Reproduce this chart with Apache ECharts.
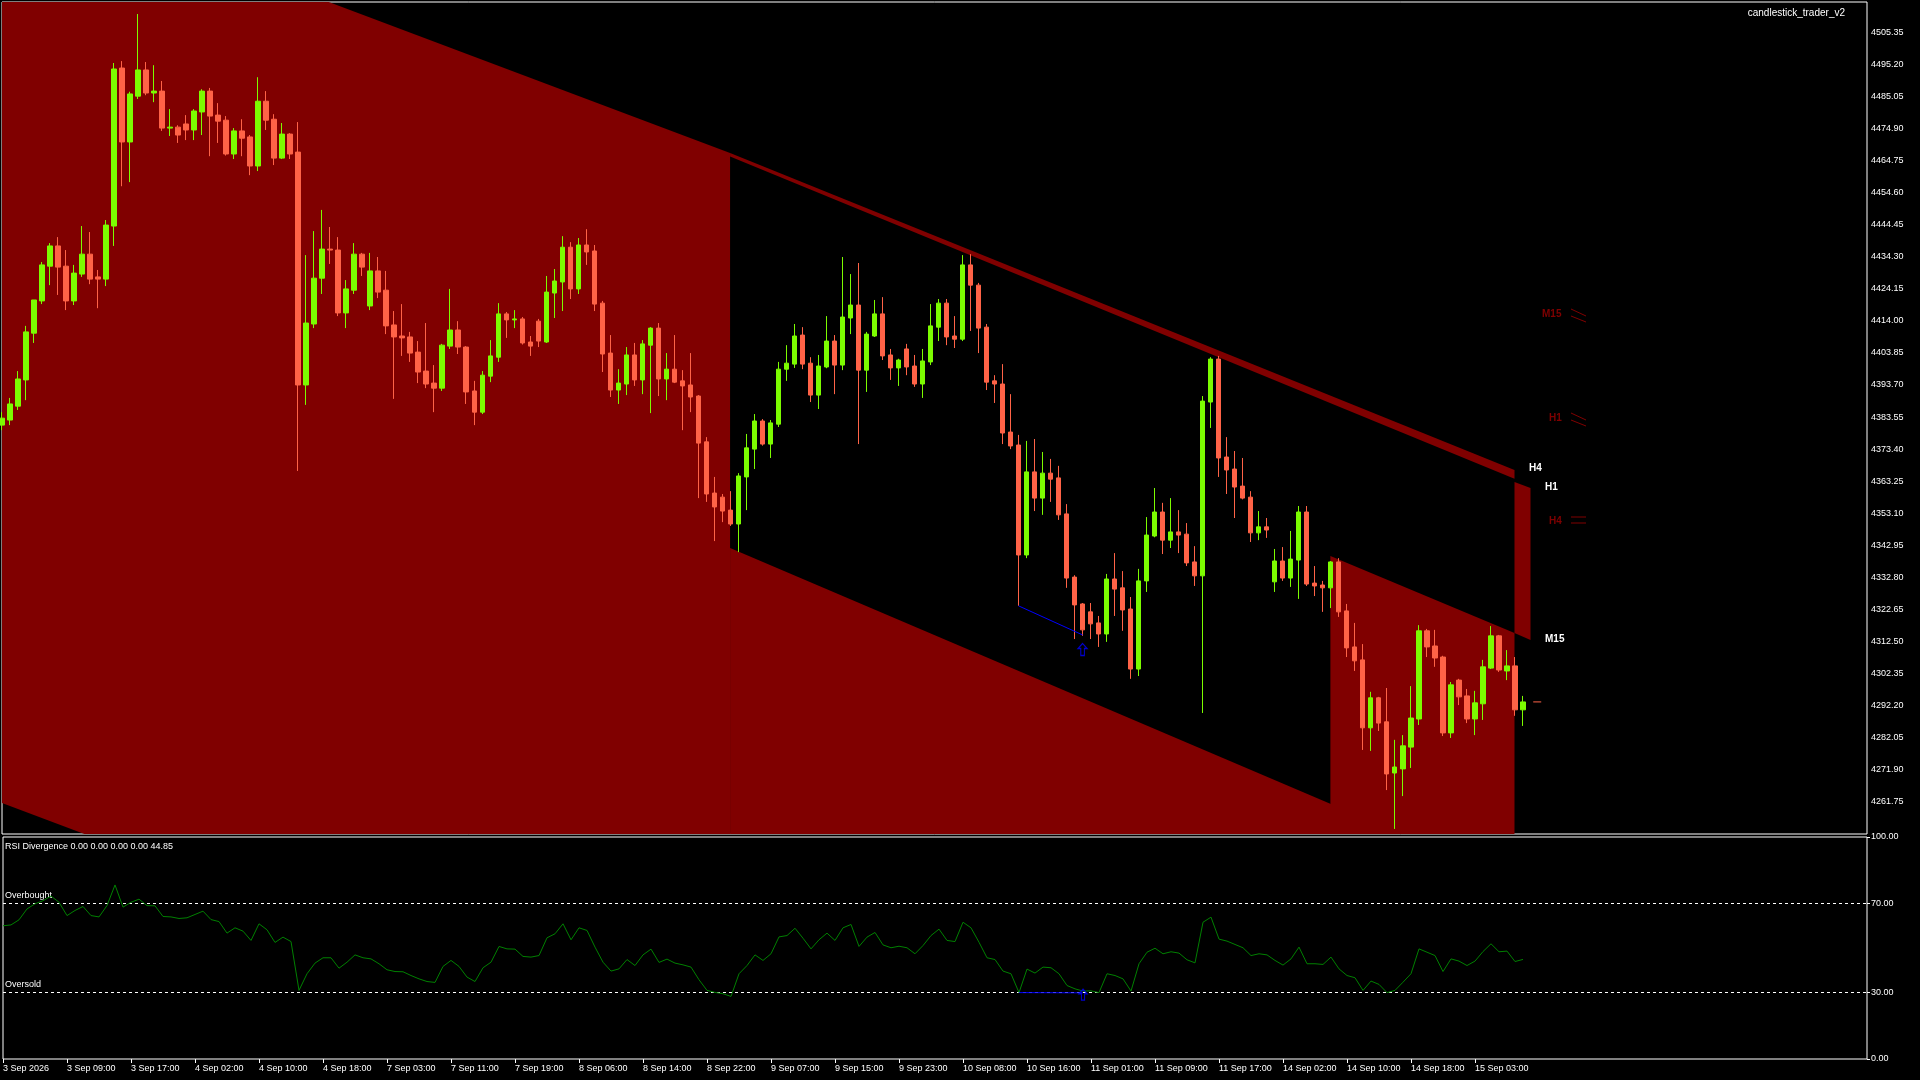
<!DOCTYPE html>
<html>
<head>
<meta charset="utf-8">
<style>
  html, body { margin: 0; padding: 0; background: #000; }
  #chart { width: 1920px; height: 1080px; }
</style>
<script src="https://cdn.jsdelivr.net/npm/echarts@6/dist/echarts.min.js"></script>
</head>
<body>
<div id="chart"></div>
<script>
// XAUUSD H1 candles
const opens = [4381.0,4382.6,4387.0,4395.3,4410.1,4420.3,4431.3,4437.7,4431.3,4420.3,
4428.8,4435.1,4427.9,4427.2,4444.0,4494.0,4470.6,4485.1,4493.4,4486.1,
4486.7,4475.0,4475.3,4476.3,4474.4,4480.1,4486.7,4479.1,4477.5,4466.8,
4474.1,4472.2,4463.0,4483.5,4477.8,4465.5,4473.1,4467.4,4393.7,4413.0,
4427.5,4436.7,4436.4,4416.5,4423.7,4435.1,4418.7,4429.8,4423.7,4412.7,
4409.2,4408.9,4404.1,4398.1,4394.3,4392.7,4406.0,4411.1,4405.7,4391.8,
4385.1,4396.5,4402.5,4416.2,4414.3,4414.6,4407.3,4413.9,4407.3,4422.8,
4426.3,4437.3,4424.1,4438.0,4436.1,4419.6,4403.8,4392.1,4394.0,4403.2,
4395.3,4406.3,4411.7,4395.6,4398.7,4395.0,4393.7,4390.2,4375.7,4359.5,
4358.2,4354.1,4349.7,4364.6,4373.4,4382.3,4375.0,4381.3,4398.7,4400.3,
4409.5,4400.6,4390.5,4399.4,4407.6,4400.0,4414.9,4419.0,4398.4,4409.2,
4416.2,4403.2,4399.1,4405.1,4399.7,4394.0,4401.0,4412.0,4419.6,4409.2,
4408.2,4431.7,4425.3,4412.0,4395.0,4394.0,4378.8,4374.7,4339.9,4366.2,
4357.9,4365.8,4364.3,4352.9,4332.9,4324.4,4321.9,4318.4,4314.9,4332.3,
4329.5,4322.8,4303.8,4331.7,4345.9,4353.5,4344.6,4347.2,4346.5,4337.7,
4333.3,4388.3,4401.9,4370.9,4367.1,4361.7,4358.2,4346.9,4348.8,4331.4,
4338.0,4332.6,4338.3,4353.5,4331.0,4330.4,4329.5,4337.7,4322.2,4310.8,
4306.7,4285.2,4294.7,4287.1,4270.9,4272.2,4279.1,4288.0,4315.9,4311.1,
4307.6,4283.6,4300.3,4295.3,4288.0,4292.8,4304.1,4314.3,4303.2,4304.8,
4290.9];
const closes = [4383.2,4387.7,4395.6,4410.5,4420.6,4431.7,4437.7,4431.0,4420.3,4429.1,
4435.1,4427.2,4427.2,4444.3,4493.7,4470.6,4485.8,4493.4,4486.1,4486.7,
4475.0,4475.3,4472.8,4474.4,4480.4,4486.7,4478.8,4477.2,4466.8,4474.1,
4471.8,4463.0,4483.5,4477.5,4465.5,4473.1,4466.8,4393.7,4413.3,4427.5,
4436.7,4436.4,4416.5,4424.1,4435.1,4431.0,4429.8,4423.1,4412.4,4408.9,
4408.6,4403.8,4397.8,4394.0,4392.7,4406.3,4411.1,4405.7,4391.5,4385.1,
4396.8,4402.9,4416.2,4414.3,4414.6,4407.0,4406.0,4407.6,4423.1,4426.6,
4437.3,4424.1,4438.0,4435.8,4419.3,4403.5,4392.1,4394.3,4403.2,4395.3,
4406.7,4411.7,4395.6,4398.7,4394.6,4393.4,4389.9,4375.3,4359.2,4355.1,
4353.8,4349.7,4364.9,4373.8,4382.3,4375.0,4381.7,4398.7,4400.6,4409.2,
4400.3,4390.5,4399.7,4407.6,4400.0,4415.2,4419.0,4398.4,4409.8,4416.2,
4402.9,4399.1,4401.6,4399.4,4394.0,4401.3,4412.4,4419.6,4408.9,4408.2,
4431.7,4425.3,4411.7,4394.6,4394.0,4378.5,4374.4,4339.9,4366.2,4357.9,
4365.8,4363.9,4352.6,4332.6,4324.1,4316.2,4318.1,4314.9,4332.3,4329.1,
4322.5,4303.8,4331.7,4346.2,4353.5,4344.6,4347.2,4346.2,4337.4,4333.3,
4388.6,4401.9,4370.6,4366.8,4361.4,4357.9,4346.9,4348.8,4347.8,4338.0,
4332.6,4338.6,4353.5,4330.7,4330.1,4329.5,4337.7,4321.9,4310.5,4306.4,
4285.2,4294.7,4286.7,4270.6,4272.8,4279.5,4288.3,4315.9,4310.8,4307.3,
4283.6,4298.8,4295.0,4288.0,4293.1,4304.5,4314.3,4303.5,4304.8,4290.9,
4293.4];
const lows = [4379.4,4381.0,4385.8,4388.9,4407.0,4419.3,4425.3,4422.2,4417.4,4419.0,
4427.9,4425.6,4418.0,4425.0,4437.7,4456.6,4457.9,4484.2,4485.4,4483.2,
4474.1,4472.5,4470.3,4471.2,4471.2,4472.8,4466.1,4470.3,4466.3,4465.2,
4466.1,4460.1,4461.4,4474.4,4463.3,4465.2,4465.2,4366.5,4387.4,4411.7,
4422.5,4432.0,4415.5,4411.7,4422.5,4428.2,4417.4,4421.2,4409.8,4389.3,
4402.9,4401.0,4394.3,4392.7,4385.1,4391.8,4405.1,4403.5,4387.7,4381.0,
4384.5,4394.6,4401.0,4408.6,4411.7,4406.5,4402.9,4405.7,4407.0,4414.9,
4417.1,4420.9,4422.5,4431.7,4417.1,4397.8,4389.9,4387.7,4390.5,4393.4,
4390.8,4384.8,4390.2,4388.9,4394.3,4379.4,4385.1,4357.9,4356.7,4344.3,
4350.3,4349.1,4340.8,4354.1,4367.1,4374.5,4370.6,4380.4,4395.0,4399.1,
4398.7,4388.3,4386.1,4399.0,4390.8,4398.4,4409.8,4375.0,4391.5,4408.9,
4401.6,4395.3,4393.4,4396.8,4393.1,4389.6,4400.0,4407.6,4406.3,4405.4,
4407.6,4410.8,4403.8,4392.1,4388.0,4375.0,4373.4,4323.8,4338.9,4353.8,
4352.6,4356.7,4351.0,4329.5,4313.3,4314.3,4313.3,4310.8,4312.4,4320.6,
4315.9,4300.7,4301.6,4328.2,4345.5,4340.2,4342.1,4340.5,4336.4,4330.1,
4289.9,4380.1,4364.6,4359.2,4351.6,4357.5,4344.0,4344.6,4345.3,4328.2,
4331.7,4329.8,4326.0,4330.1,4326.9,4321.9,4323.1,4320.3,4307.6,4303.2,
4278.2,4277.9,4284.2,4265.5,4253.2,4263.6,4272.5,4286.1,4307.6,4304.5,
4282.6,4282.0,4292.4,4286.7,4282.9,4287.7,4303.8,4302.9,4300.3,4289.0,
4285.8];
const highs = [4385.1,4389.6,4398.1,4412.4,4420.6,4432.6,4438.6,4440.5,4436.4,4431.7,
4444.0,4442.1,4430.1,4445.9,4495.6,4496.2,4486.5,4511.1,4495.9,4494.9,
4489.9,4481.0,4475.9,4479.1,4481.0,4487.3,4487.7,4482.9,4478.8,4475.0,
4477.8,4472.8,4491.1,4486.7,4479.4,4476.6,4473.4,4476.9,4434.8,4442.4,
4449.1,4443.7,4440.5,4426.9,4438.6,4435.5,4435.5,4434.2,4429.8,4417.1,
4419.3,4410.5,4407.6,4413.3,4400.0,4406.7,4424.1,4413.9,4406.0,4395.0,
4398.1,4407.9,4419.6,4416.8,4417.4,4415.2,4409.2,4414.6,4428.2,4430.4,
4440.8,4438.9,4440.2,4443.0,4438.0,4420.3,4409.5,4398.7,4405.7,4407.0,
4407.9,4412.0,4413.3,4403.8,4409.5,4398.4,4403.8,4390.5,4377.2,4364.6,
4359.2,4360.1,4365.8,4378.2,4384.5,4382.9,4382.6,4401.0,4406.3,4413.0,
4412.0,4402.5,4403.2,4415.5,4409.5,4434.2,4428.8,4432.3,4410.5,4420.6,
4421.5,4405.1,4402.0,4406.7,4403.2,4405.1,4419.3,4420.9,4420.9,4415.5,
4434.8,4435.1,4426.0,4413.0,4396.8,4400.3,4390.8,4377.9,4376.0,4376.6,
4372.5,4370.3,4368.1,4356.0,4333.5,4324.7,4324.7,4320.6,4333.9,4340.5,
4334.8,4326.6,4335.5,4351.9,4361.1,4356.4,4357.9,4354.1,4350.0,4342.7,
4390.2,4402.5,4402.9,4377.2,4372.8,4370.6,4360.1,4353.8,4351.6,4341.8,
4342.4,4347.5,4355.4,4355.4,4336.4,4331.7,4338.0,4338.9,4324.4,4318.4,
4311.7,4296.6,4295.0,4297.8,4281.4,4282.9,4298.4,4317.7,4316.5,4316.2,
4308.0,4299.7,4300.7,4297.5,4296.9,4306.7,4317.4,4314.6,4309.8,4307.6,
4295.3];

// RSI(14) values per bar
const rsiValues = [60.0,60.4,62.7,67.6,69.9,71.3,73.4,70.6,64.6,66.9,
68.7,64.6,64.0,69.1,78.4,68.4,70.6,72.0,69.1,69.0,
64.2,64.0,63.3,63.6,65.1,66.6,62.8,61.9,56.7,59.1,
57.6,53.4,60.9,58.2,52.5,54.9,52.9,30.9,38.4,43.2,
45.6,45.6,40.9,43.6,46.9,45.6,45.1,42.9,40.2,39.4,
39.3,37.6,36.1,34.9,34.5,41.7,44.4,41.7,36.9,34.9,
41.1,43.6,50.7,49.6,49.5,46.2,45.9,46.6,54.6,56.4,
60.9,53.7,59.1,57.9,50.4,43.6,39.6,40.6,44.8,42.1,
46.9,49.5,43.5,45.0,43.2,42.4,41.4,35.7,30.9,30.0,
29.4,28.2,38.4,42.1,46.9,44.4,47.4,55.0,55.6,58.9,
54.4,49.6,53.7,56.7,53.4,59.1,60.6,50.7,54.9,57.0,
51.4,50.1,50.8,50.1,47.4,51.1,55.6,58.5,53.4,52.9,
61.6,59.1,52.6,45.6,44.8,39.6,38.4,29.9,40.5,38.7,
41.4,41.1,38.4,33.1,31.6,30.6,30.7,29.9,38.4,37.6,
36.1,30.6,42.9,48.1,49.9,47.4,48.3,47.7,44.7,43.3,
61.6,63.9,54.0,53.1,51.6,50.1,46.6,47.4,46.9,44.4,
42.3,45.1,50.4,42.9,42.9,42.6,45.9,40.6,37.6,36.6,
30.9,35.1,33.6,29.9,30.9,34.6,38.4,49.6,48.1,46.6,
39.4,45.1,44.1,42.1,44.1,48.4,51.9,48.3,48.6,43.9,
44.85];

// time labels, one every 8 bars
const tickLabels = ['3 Sep 2026','3 Sep 09:00','3 Sep 17:00','4 Sep 02:00','4 Sep 10:00','4 Sep 18:00',
'7 Sep 03:00','7 Sep 11:00','7 Sep 19:00','8 Sep 06:00','8 Sep 14:00','8 Sep 22:00',
'9 Sep 07:00','9 Sep 15:00','9 Sep 23:00','10 Sep 08:00','10 Sep 16:00','11 Sep 01:00',
'11 Sep 09:00','11 Sep 17:00','14 Sep 02:00','14 Sep 10:00','14 Sep 18:00','15 Sep 03:00'];

// channel zones [bar, price]
const zoneLeft  = [[-0.3,4554.1],[90.96,4467.1],[90.96,4174.7],[-0.3,4261.7]];
const bandTop   = [[90.96,4467.1],[188.96,4366.8],[188.96,4364.0],[90.96,4466.0]];
const zoneLow   = [[90.96,4342.1],[180.0,4246.0],[90.96,4246.0]];
const zoneRight = [[165.96,4339.6],[188.96,4315.2],[188.96,4240.0],[165.96,4240.0]];
const zoneProj  = [[188.96,4363.0],[190.96,4361.1],[190.96,4313.0],[188.96,4315.2]];

// divergence
const divPrice = [[127,4323.8],[135,4314.6]];
const divRsi = [[127,29.9],[135,29.8]];
const bidPrice = 4293.4;

const N = 234;
const cats = [];
for (let i = 0; i < N; i++) cats.push(i % 8 === 0 && i / 8 < tickLabels.length ? tickLabels[i / 8] : '');
const candles = opens.map((o, i) => [o, closes[i], lows[i], highs[i]]);

const RED = '#800000', UP = '#7CFC00', DOWN = '#FF6347';
const FONT = 'Liberation Sans';

function zone(points) {
  return {
    type: 'custom', xAxisIndex: 1, yAxisIndex: 0, clip: true, silent: true, z: 1,
    data: [0],
    renderItem: function (params, api) {
      return {
        type: 'polygon',
        shape: { points: points.map(p => api.coord(p)) },
        style: { fill: RED, stroke: null }
      };
    }
  };
}

const chart = echarts.init(document.getElementById('chart'));
const arrow = 'path://M5,0 L10,5 L7,5 L7,12 L3,12 L3,5 L0,5 Z';

chart.setOption({
  backgroundColor: '#000',
  animation: false,
  textStyle: { fontFamily: FONT },
  grid: [
    { left: 2, top: 2, width: 1865, height: 832, show: true, borderColor: '#fff', borderWidth: 1 },
    { left: 2, top: 837, width: 1865, height: 222, show: true, borderColor: '#fff', borderWidth: 1 }
  ],
  xAxis: [
    { type: 'category', gridIndex: 0, data: cats, boundaryGap: false, show: false },
    { type: 'value', gridIndex: 0, min: 0, max: N - 1, show: false },
    { type: 'category', gridIndex: 1, data: cats, boundaryGap: false,
      axisLine: { show: false },
      axisTick: { show: true, length: 4, lineStyle: { color: '#fff' },
        interval: (i, v) => v !== '' },
      axisLabel: { color: '#fff', fontSize: 9, fontFamily: FONT, align: 'left', margin: 5,
        interval: (i, v) => v !== '' },
      splitLine: { show: false } }
  ],
  yAxis: [
    { type: 'value', gridIndex: 0, position: 'right', min: 4251.6, max: 4514.9, interval: 10.15,
      axisLine: { show: false },
      axisTick: { show: true, length: 3, lineStyle: { color: '#fff' } },
      axisLabel: { color: '#fff', fontSize: 9, fontFamily: FONT, margin: 4, showMinLabel: false, showMaxLabel: false,
        formatter: v => v.toFixed(2) },
      splitLine: { show: false } },
    { type: 'value', gridIndex: 1, position: 'right', min: 0, max: 100, interval: 10,
      axisLine: { show: false },
      axisTick: { show: true, length: 3, lineStyle: { color: '#fff' }, customValues: [0, 30, 70, 100] },
      axisLabel: { color: '#fff', fontSize: 9, fontFamily: FONT, margin: 4, customValues: [0, 30, 70, 100],
        formatter: v => ([0, 30, 70, 100].indexOf(Math.round(v)) >= 0 ? v.toFixed(2) : '') },
      splitLine: { show: false } }
  ],
  series: [
    zone(zoneLeft), zone(bandTop), zone(zoneLow), zone(zoneRight), zone(zoneProj),
    {
      type: 'candlestick', xAxisIndex: 0, yAxisIndex: 0, z: 5, barWidth: 5,
      data: candles,
      itemStyle: { color: UP, color0: DOWN, borderColor: UP, borderColor0: DOWN, borderWidth: 1 }
    },
    {
      type: 'line', xAxisIndex: 1, yAxisIndex: 0, z: 6, data: divPrice, symbol: 'none',
      lineStyle: { color: '#0000ff', width: 1 }
    },
    {
      type: 'line', xAxisIndex: 1, yAxisIndex: 0, z: 6, data: [[191.3, bidPrice], [192.3, bidPrice]], symbol: 'none',
      lineStyle: { color: DOWN, width: 1 }
    },
    {
      type: 'scatter', xAxisIndex: 1, yAxisIndex: 0, z: 6, data: [[135, 4310.0]],
      symbol: arrow, symbolSize: [9, 12],
      itemStyle: { color: 'rgba(0,0,0,0)', borderColor: '#0000ff', borderWidth: 1.2 }
    },
    {
      type: 'line', xAxisIndex: 2, yAxisIndex: 1, z: 5, data: rsiValues, symbol: 'none',
      lineStyle: { color: '#008000', width: 1 },
      markLine: {
        silent: true, symbol: 'none', label: { show: false },
        lineStyle: { color: '#fff', type: [3, 3], width: 1 },
        data: [{ yAxis: 70 }, { yAxis: 30 }]
      }
    },
    {
      type: 'line', xAxisIndex: 2, yAxisIndex: 1, z: 6, data: divRsi, symbol: 'none',
      lineStyle: { color: '#0000ff', width: 1 }
    },
    {
      type: 'scatter', xAxisIndex: 2, yAxisIndex: 1, z: 6, data: [[135, 29.0]],
      symbol: arrow, symbolSize: [8, 11],
      itemStyle: { color: 'rgba(0,0,0,0)', borderColor: '#0000ff', borderWidth: 1.2 }
    }
  ],
  graphic: [
    { type: 'text', left: 7, top: 4, style: { text: 'XAUUSD, H1:  Gold vs US Dollar\nRSI Value: 44.9\nStatus: Notify\nBars on Chart: 4155',
      fill: '#fff', font: '10px "Liberation Sans"', lineHeight: 11 } },
    { type: 'text', right: 1920 - 1845, top: 8, style: { text: 'candlestick_trader_v2', fill: '#fff', font: '10px "Liberation Sans"', align: 'right' } },
    { type: 'text', left: 5, top: 842, style: { text: 'RSI Divergence 0.00 0.00 0.00 0.00 44.85', fill: '#fff', font: '9px "Liberation Sans"' } },
    { type: 'text', left: 5, top: 891, style: { text: 'Overbought', fill: '#fff', font: '9px "Liberation Sans"' } },
    { type: 'text', left: 5, top: 980, style: { text: 'Oversold', fill: '#fff', font: '9px "Liberation Sans"' } },
    { type: 'text', left: 1529, top: 463, style: { text: 'H4', fill: '#fff', font: 'bold 10px "Liberation Sans"' } },
    { type: 'text', left: 1545, top: 482, style: { text: 'H1', fill: '#fff', font: 'bold 10px "Liberation Sans"' } },
    { type: 'text', left: 1545, top: 634, style: { text: 'M15', fill: '#fff', font: 'bold 10px "Liberation Sans"' } },
    { type: 'text', left: 1542, top: 309, style: { text: 'M15', fill: RED, font: 'bold 10px "Liberation Sans"' } },
    { type: 'text', left: 1549, top: 413, style: { text: 'H1', fill: RED, font: 'bold 10px "Liberation Sans"' } },
    { type: 'text', left: 1549, top: 516, style: { text: 'H4', fill: RED, font: 'bold 10px "Liberation Sans"' } },
    { type: 'line', shape: { x1: 1571, y1: 309, x2: 1586, y2: 316 }, style: { stroke: RED, lineWidth: 1 } },
    { type: 'line', shape: { x1: 1571, y1: 316, x2: 1586, y2: 322 }, style: { stroke: RED, lineWidth: 1 } },
    { type: 'line', shape: { x1: 1571, y1: 413, x2: 1586, y2: 420 }, style: { stroke: RED, lineWidth: 1 } },
    { type: 'line', shape: { x1: 1571, y1: 420, x2: 1586, y2: 426 }, style: { stroke: RED, lineWidth: 1 } },
    { type: 'line', shape: { x1: 1571, y1: 517, x2: 1586, y2: 517 }, style: { stroke: RED, lineWidth: 1 } },
    { type: 'line', shape: { x1: 1571, y1: 523, x2: 1586, y2: 523 }, style: { stroke: RED, lineWidth: 1 } }
  ]
});

window.addEventListener('resize', function () { chart.resize(); });
</script>
</body>
</html>
